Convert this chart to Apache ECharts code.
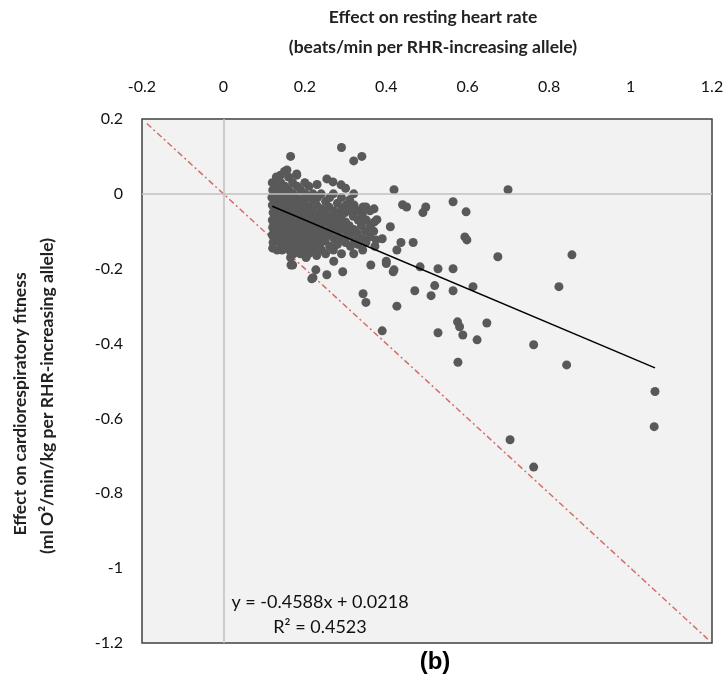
<!DOCTYPE html>
<html>
<head>
<meta charset="utf-8">
<script src="https://cdn.jsdelivr.net/npm/echarts@6/dist/echarts.min.js"></script>
<style>
  html, body { margin: 0; padding: 0; background: #fff; }
  #chart { width: 728px; height: 688px; }
</style>
</head>
<body>
<div id="chart"></div>
<script>
// tick labels of both axes
var xTicks = ['-0.2', '0', '0.2', '0.4', '0.6', '0.8', '1', '1.2'];
var yTicks = ['0.2', '0', '-0.2', '-0.4', '-0.6', '-0.8', '-1', '-1.2'];

// dense cluster of SNP effects
var clusterPoints = [
  [0.12, 0.03], [0.121, 0.01], [0.119, -0.01], [0.12, -0.03], [0.122, -0.05], [0.12, -0.07], [0.121, -0.09], [0.12, -0.11], [0.122, -0.13], [0.121, -0.145],
  [0.13, 0.045], [0.131, 0.02], [0.129, 0.0], [0.13, -0.02], [0.132, -0.04], [0.13, -0.06], [0.131, -0.08], [0.13, -0.1], [0.129, -0.12], [0.132, -0.15],
  [0.14, 0.05], [0.141, 0.03], [0.139, 0.01], [0.14, -0.01], [0.142, -0.035], [0.14, -0.055], [0.141, -0.075], [0.14, -0.095], [0.139, -0.115], [0.142, -0.135], [0.144, -0.15],
  [0.15, 0.06], [0.151, 0.02], [0.149, 0.0], [0.15, -0.02], [0.152, -0.045], [0.15, -0.065], [0.151, -0.085], [0.15, -0.105], [0.149, -0.125], [0.152, -0.145],
  [0.16, 0.045], [0.161, 0.01], [0.159, -0.01], [0.16, -0.03], [0.162, -0.05], [0.16, -0.07], [0.161, -0.09], [0.16, -0.11], [0.159, -0.13], [0.162, -0.15], [0.165, -0.17],
  [0.17, 0.03], [0.171, 0.0], [0.169, -0.02], [0.17, -0.04], [0.172, -0.06], [0.17, -0.08], [0.171, -0.1], [0.17, -0.12], [0.169, -0.14], [0.172, -0.16],
  [0.18, 0.05], [0.181, 0.02], [0.179, -0.01], [0.18, -0.03], [0.182, -0.05], [0.18, -0.07], [0.181, -0.09], [0.18, -0.11], [0.179, -0.13], [0.182, -0.15], [0.17, -0.19],
  [0.19, 0.01], [0.191, -0.015], [0.189, -0.04], [0.19, -0.06], [0.192, -0.08], [0.19, -0.1], [0.191, -0.12], [0.19, -0.14], [0.189, -0.16],
  [0.2, 0.03], [0.201, 0.0], [0.199, -0.025], [0.2, -0.05], [0.202, -0.07], [0.2, -0.09], [0.201, -0.11], [0.2, -0.13], [0.199, -0.15], [0.203, -0.17],
  [0.21, 0.02], [0.211, -0.01], [0.209, -0.035], [0.21, -0.06], [0.212, -0.08], [0.21, -0.1], [0.211, -0.12], [0.21, -0.14], [0.209, -0.16],
  [0.22, 0.0], [0.221, -0.02], [0.219, -0.045], [0.22, -0.07], [0.222, -0.09], [0.22, -0.11], [0.221, -0.13], [0.22, -0.15], [0.217, -0.227],
  [0.23, 0.025], [0.231, -0.01], [0.229, -0.03], [0.23, -0.055], [0.232, -0.08], [0.23, -0.1], [0.231, -0.12], [0.23, -0.14], [0.229, -0.165], [0.227, -0.203],
  [0.24, 0.0], [0.241, -0.04], [0.239, -0.065], [0.24, -0.09], [0.242, -0.11], [0.24, -0.13], [0.241, -0.15],
  [0.254, 0.04], [0.251, -0.02], [0.249, -0.05], [0.25, -0.075], [0.252, -0.1], [0.25, -0.125], [0.251, -0.16], [0.254, -0.216],
  [0.269, 0.032], [0.261, -0.01], [0.259, -0.035], [0.26, -0.06], [0.262, -0.085], [0.26, -0.11], [0.261, -0.14],
  [0.27, 0.0], [0.271, -0.045], [0.269, -0.07], [0.27, -0.095], [0.272, -0.12], [0.27, -0.15], [0.271, -0.18],
  [0.289, 0.024], [0.28, -0.025], [0.279, -0.055], [0.28, -0.08], [0.282, -0.105], [0.28, -0.135],
  [0.29, -0.01], [0.291, -0.04], [0.289, -0.065], [0.29, -0.09], [0.292, -0.12], [0.29, -0.16], [0.293, -0.208],
  [0.3, 0.015], [0.301, -0.03], [0.299, -0.05], [0.3, -0.075], [0.302, -0.1], [0.3, -0.13],
  [0.31, -0.016], [0.311, -0.045], [0.309, -0.085], [0.31, -0.11], [0.312, -0.14],
  [0.32, 0.0], [0.321, -0.03], [0.319, -0.06], [0.32, -0.095], [0.322, -0.125], [0.32, -0.16],
  [0.33, -0.045], [0.331, -0.07], [0.329, -0.105], [0.33, -0.135],
  [0.343, -0.035], [0.341, -0.055], [0.339, -0.085], [0.34, -0.12], [0.342, -0.15],
  [0.35, -0.035], [0.351, -0.07], [0.349, -0.1], [0.35, -0.13],
  [0.36, -0.045], [0.361, -0.085], [0.359, -0.115],
  [0.37, -0.04], [0.371, -0.075], [0.369, -0.1], [0.372, -0.14]
];

// scattered points away from the cluster
var outerPoints = [
  [0.165, 0.1], [0.29, 0.124], [0.34, 0.1], [0.32, 0.088], [0.156, 0.064], [0.18, 0.053],
  [0.419, 0.011], [0.699, 0.011],
  [0.44, -0.029], [0.45, -0.035], [0.497, -0.035], [0.49, -0.05], [0.564, -0.021], [0.596, -0.048],
  [0.41, -0.088], [0.377, -0.069], [0.39, -0.12], [0.436, -0.13], [0.426, -0.15], [0.466, -0.13],
  [0.593, -0.115], [0.598, -0.123], [0.375, -0.123],
  [0.4, -0.186], [0.419, -0.203], [0.483, -0.195], [0.527, -0.2], [0.564, -0.2], [0.674, -0.168], [0.856, -0.163],
  [0.824, -0.248], [0.47, -0.259], [0.519, -0.245], [0.51, -0.272], [0.564, -0.259], [0.613, -0.248], [0.426, -0.3],
  [0.39, -0.366], [0.575, -0.342], [0.58, -0.355], [0.588, -0.377], [0.527, -0.371], [0.623, -0.39], [0.647, -0.345],
  [0.762, -0.403], [0.576, -0.45], [0.843, -0.457], [1.06, -0.528], [1.058, -0.622], [0.704, -0.657], [0.762, -0.73],
  [0.343, -0.267], [0.35, -0.29], [0.166, -0.19], [0.22, -0.224], [0.362, -0.19], [0.4, -0.18], [0.417, -0.208]
];

// linear trendline ends (y = -0.4588x + 0.0218) and the y = -x reference line ends
var trendLine = [[0.12, -0.033], [1.06, -0.465]];
var identityLine = [[-0.188, 0.188], [1.19, -1.19]];

var chart = echarts.init(document.getElementById('chart'));

var option = {
  animation: false,
  backgroundColor: '#ffffff',
  grid: {
    left: 142, top: 119, width: 570, height: 524,
    show: true,
    backgroundColor: '#f2f2f2',
    borderColor: '#404040',
    borderWidth: 1.5
  },
  xAxis: {
    type: 'value',
    position: 'top',
    min: -0.2, max: 1.2, interval: 0.2,
    axisLine: { show: false },
    axisTick: { show: false },
    splitLine: { show: false },
    axisLabel: {
      margin: 24,
      color: '#111',
      fontFamily: 'Lato',
      fontSize: 16,
      formatter: function (v, i) { return xTicks[i]; }
    }
  },
  yAxis: {
    type: 'value',
    min: -1.2, max: 0.2, interval: 0.2,
    axisLine: { show: false },
    axisTick: { show: false },
    splitLine: { show: false },
    axisLabel: {
      margin: 19,
      color: '#111',
      fontFamily: 'Lato',
      fontSize: 16,
      formatter: function (v, i) { return yTicks[yTicks.length - 1 - i]; }
    }
  },
  graphic: [
    {
      type: 'text', x: 433, y: 17,
      style: { text: 'Effect on resting heart rate', font: 'bold 17.5px Lato', fill: '#222', align: 'center', verticalAlign: 'middle' }
    },
    {
      type: 'text', x: 433, y: 47,
      style: { text: '(beats/min per RHR-increasing allele)', font: 'bold 17.5px Lato', fill: '#222', align: 'center', verticalAlign: 'middle' }
    },
    {
      type: 'text', x: 20, y: 404, rotation: Math.PI / 2,
      style: { text: 'Effect on cardiorespiratory fitness', font: 'bold 17.5px Lato', fill: '#222', align: 'center', verticalAlign: 'middle' }
    },
    {
      type: 'text', x: 47, y: 396, rotation: Math.PI / 2,
      style: { text: '(ml O\u00B2/min/kg per RHR-increasing allele)', font: 'bold 17.5px Lato', fill: '#222', align: 'center', verticalAlign: 'middle' }
    },
    {
      type: 'text', x: 320, y: 602,
      style: { text: 'y = -0.4588x + 0.0218', font: '18px Lato', fill: '#111', align: 'center', verticalAlign: 'middle' }
    },
    {
      type: 'text', x: 320, y: 627,
      style: { text: 'R\u00B2 = 0.4523', font: '18px Lato', fill: '#111', align: 'center', verticalAlign: 'middle' }
    },
    {
      type: 'text', x: 435, y: 662,
      style: { text: '(b)', font: 'bold 24px "Liberation Sans"', fill: '#000', align: 'center', verticalAlign: 'middle' }
    }
  ],
  series: [
    {
      // zero lines drawn as Excel axes
      type: 'scatter',
      data: [],
      silent: true,
      markLine: {
        symbol: 'none',
        silent: true,
        label: { show: false },
        lineStyle: { color: '#c0c0c0', width: 1.5, type: 'solid' },
        data: [{ xAxis: 0 }, { yAxis: 0 }]
      }
    },
    {
      type: 'line',
      data: identityLine,
      symbol: 'none',
      lineStyle: { color: '#d36e68', width: 1.5, type: [6, 3, 2, 3] },
      z: 2
    },
    {
      type: 'scatter',
      data: clusterPoints.concat(outerPoints),
      symbolSize: 9,
      itemStyle: { color: '#595959', opacity: 1 },
      z: 3
    },
    {
      type: 'line',
      data: trendLine,
      symbol: 'none',
      lineStyle: { color: '#000', width: 1.5 },
      z: 4
    }
  ]
};

chart.setOption(option);
</script>
</body>
</html>
